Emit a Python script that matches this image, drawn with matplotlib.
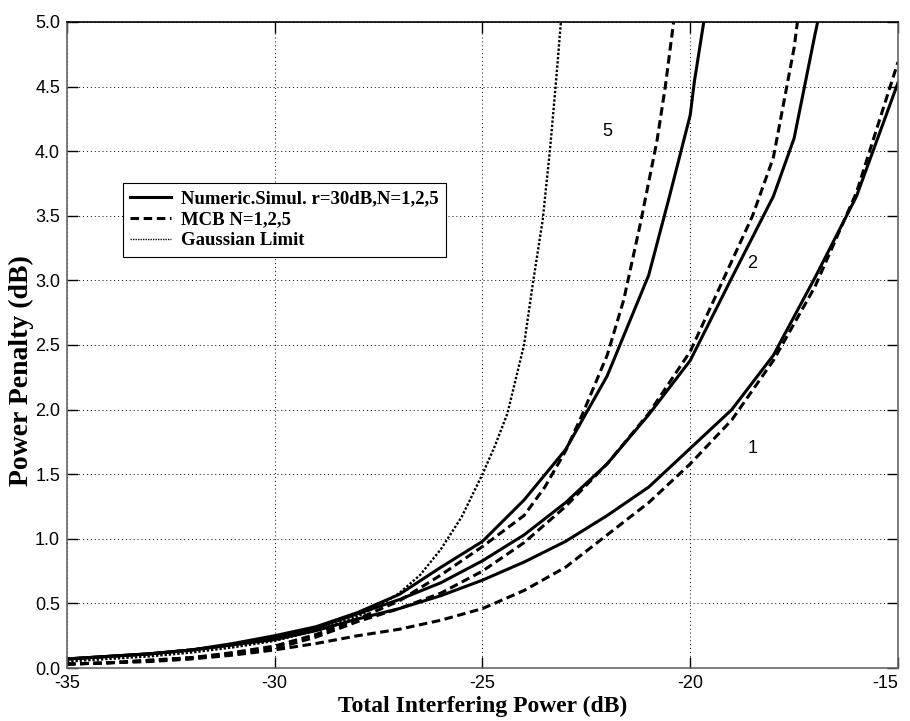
import numpy as np
import matplotlib
matplotlib.use('Agg')
import matplotlib.pyplot as plt
from matplotlib.lines import Line2D

plt.rcParams['axes.unicode_minus'] = False

x_sim1 = [-35, -34, -33, -32, -31, -30, -29, -28, -27, -26, -25, -24, -23, -22, -21, -20, -19, -18, -17, -16, -15]
y_sim1 = [0.07, 0.09, 0.11, 0.14, 0.18, 0.22, 0.29, 0.38, 0.46, 0.56, 0.68, 0.82, 0.98, 1.18, 1.40, 1.70, 2.00, 2.42, 3.02, 3.65, 4.53]
x_mcb1 = [-35, -34, -33, -32, -31, -30, -29, -28, -27, -26, -25, -24, -23, -22, -21, -20, -19, -18, -17, -16, -15]
y_mcb1 = [0.03, 0.04, 0.05, 0.07, 0.10, 0.14, 0.19, 0.25, 0.30, 0.37, 0.46, 0.60, 0.78, 1.03, 1.28, 1.58, 1.92, 2.38, 2.95, 3.68, 4.69]

x_sim2 = [-35, -34, -33, -32, -31, -30, -29, -28, -27, -26, -25, -24, -23, -22, -21, -20, -19, -18, -17.5, -17, -16.9]
y_sim2 = [0.07, 0.09, 0.11, 0.14, 0.18, 0.24, 0.31, 0.42, 0.53, 0.66, 0.83, 1.03, 1.28, 1.58, 1.96, 2.38, 3.02, 3.65, 4.10, 4.90, 5.05]
x_mcb2 = [-35, -34, -33, -32, -31, -30, -29, -28, -27, -26, -25, -24, -23, -22, -21, -20, -19, -18.5, -18, -17.5, -17.4]
y_mcb2 = [0.03, 0.04, 0.06, 0.08, 0.11, 0.15, 0.24, 0.36, 0.46, 0.58, 0.75, 0.97, 1.25, 1.58, 1.97, 2.45, 3.15, 3.50, 3.95, 4.80, 5.05]

x_sim5 = [-35, -34, -33, -32, -31, -30, -29, -28, -27, -26, -25, -24, -23, -22, -21, -20.5, -20, -19.9, -19.65]
y_sim5 = [0.07, 0.09, 0.11, 0.14, 0.19, 0.25, 0.32, 0.43, 0.57, 0.78, 0.98, 1.30, 1.69, 2.26, 3.04, 3.65, 4.28, 4.54, 5.05]
x_mcb5 = [-35, -34, -33, -32, -31, -30, -29, -28, -27, -26, -25, -24, -23.5, -23, -22.6, -22, -21.6, -21.2, -20.8, -20.6, -20.38]
y_mcb5 = [0.03, 0.04, 0.06, 0.08, 0.12, 0.17, 0.26, 0.38, 0.52, 0.72, 0.94, 1.18, 1.40, 1.68, 1.96, 2.42, 2.85, 3.44, 4.08, 4.50, 5.05]

x_gauss = [-35, -34, -33, -32, -31, -30, -29, -28, -27.4, -27, -26.5, -26, -25.5, -25, -24.7, -24.4, -24.0, -23.8, -23.55, -23.37, -23.23, -23.1]
y_gauss = [0.05, 0.07, 0.09, 0.12, 0.16, 0.21, 0.29, 0.40, 0.50, 0.58, 0.72, 0.92, 1.17, 1.50, 1.72, 1.97, 2.50, 2.95, 3.47, 4.03, 4.54, 5.05]

curve_labels = ['5', '2', '1']
label_pos = [(-22.0, 4.15), (-18.5, 3.13), (-18.5, 1.70)]

serif = 'Liberation Serif'
sans = 'Liberation Sans'

fig = plt.figure(figsize=(9.10, 7.21), dpi=100)
ax = fig.add_axes([0.0736, 0.0735, 0.9132, 0.896])

lw = 2.2
dash = (0, (2.8, 1.5))
dots = (0, (1, 0.8))
for xs, ys in [(x_sim1, y_sim1), (x_sim2, y_sim2), (x_sim5, y_sim5)]:
    ax.plot(xs, ys, color='black', linestyle='-', linewidth=lw)
for xs, ys in [(x_mcb1, y_mcb1), (x_mcb2, y_mcb2), (x_mcb5, y_mcb5)]:
    ax.plot(xs, ys, color='black', linestyle=dash, linewidth=lw)
ax.plot(x_gauss, y_gauss, color='black', linestyle=dots, linewidth=1.7)

for lab, (px, py) in zip(curve_labels, label_pos):
    ax.text(px, py, lab, family=sans, fontsize=13, ha='center', va='center')

ax.set_xlim(-35, -15)
ax.set_ylim(0, 5)
ax.set_xticks(np.arange(-35, -14, 5))
ax.set_yticks(np.arange(0, 5.01, 0.5))
ax.set_yticklabels(['%.1f' % v for v in np.arange(0, 5.01, 0.5)])
ax.tick_params(direction='in', length=8, width=1, top=True, right=True,
               labelsize=13, pad=5)
for t in ax.get_xticklabels() + ax.get_yticklabels():
    t.set_family(sans)
ax.get_xticklabels()[-1].set_horizontalalignment('right')
ax.grid(True, color='black', linestyle=(0, (1, 3)), linewidth=0.7)
for name, s in ax.spines.items():
    s.set_linewidth(1.2)
    s.set_color('black' if name == 'top' else '#666666')

ax.set_xlabel('Total Interfering Power (dB)', family=serif, fontweight='bold',
              fontsize=17, labelpad=3)
ax.set_ylabel('Power Penalty (dB)', family=serif, fontweight='bold',
              fontsize=20)
ax.yaxis.set_label_coords(-0.040, 0.46)

handles = [
    Line2D([], [], color='black', linestyle='-', linewidth=lw),
    Line2D([], [], color='black', linestyle=dash, linewidth=lw),
    Line2D([], [], color='black', linestyle=dots, linewidth=1.0),
]
names = ['Numeric.Simul. r=30dB,N=1,2,5', 'MCB N=1,2,5', 'Gaussian Limit']
leg = ax.legend(handles, names, loc='upper left', bbox_to_anchor=(0.067, 0.751),
                borderaxespad=0, fancybox=False, framealpha=1, edgecolor='black',
                prop={'family': serif, 'weight': 'bold', 'size': 13.5},
                handlelength=2.2, handletextpad=0.5, labelspacing=0.2,
                borderpad=0.4)
leg.get_frame().set_linewidth(0.8)

fig.savefig('out.png', dpi=100)
